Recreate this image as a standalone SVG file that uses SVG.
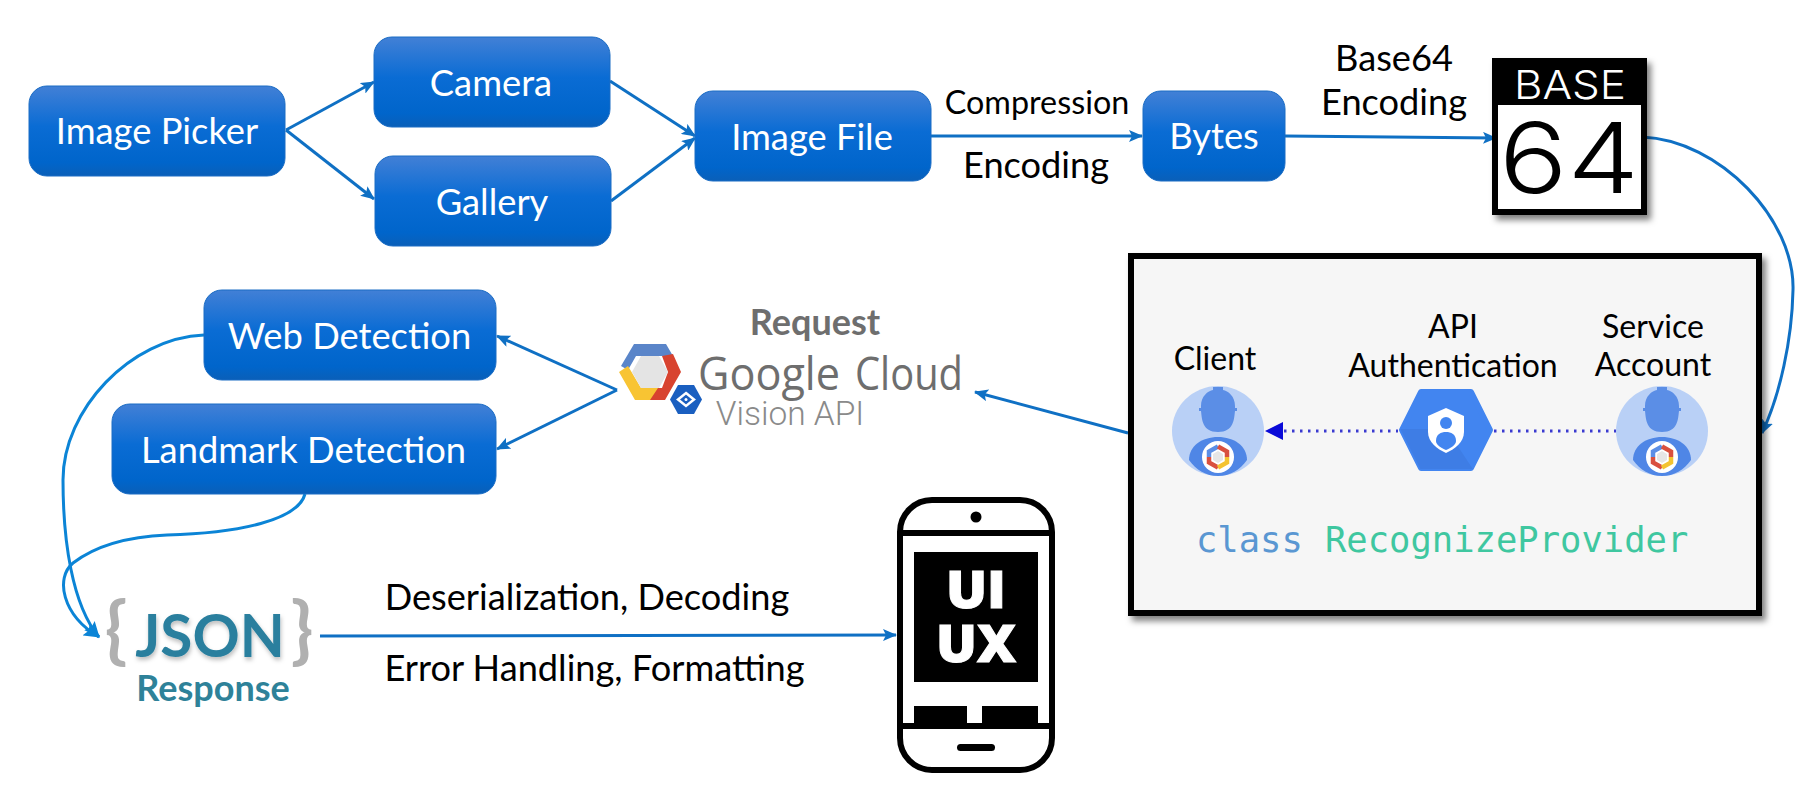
<svg xmlns="http://www.w3.org/2000/svg" xmlns:xlink="http://www.w3.org/1999/xlink" width="1809" height="788" viewBox="0 0 1809 788">
<style>
text{font-family:"Lato","Liberation Sans",sans-serif;fill:#000;text-anchor:middle}
.n{fill:url(#nodeG);stroke:#1a6cc4;stroke-width:1}
.nt{fill:#fff;font-size:36.300px}
.l{font-size:36.200px}
.c{fill:none;stroke:#0f70c4;stroke-width:3}
.cb{fill:none;stroke:#0b84d6;stroke-width:3}
.d{fill:none;stroke:#3a3ad0;stroke-width:3;stroke-dasharray:2.5 5.5}
.mono{font-family:"DejaVu Sans Mono","Liberation Mono",monospace;font-size:35.5px;text-anchor:start}
.thin{font-family:Inter,"Liberation Sans",sans-serif;font-weight:300}
.ux{font-family:"Open Sans","Liberation Sans",sans-serif;font-size:52px;font-weight:800;fill:#fff;stroke:#fff;stroke-width:1}
.gc{text-anchor:start;font-family:"Open Sans","Liberation Sans",sans-serif;font-size:46px;fill:#6e6e6e}
</style>
<defs>
<linearGradient id="nodeG" x1="0" y1="0" x2="0" y2="1">
<stop offset="0" stop-color="#4280d6"/><stop offset=".45" stop-color="#0a6cd4"/><stop offset=".85" stop-color="#0065cb"/><stop offset="1" stop-color="#0a5fb8"/>
</linearGradient>
<filter id="sh" x="-10%" y="-10%" width="125%" height="125%"><feDropShadow dx="4" dy="5" stdDeviation="3" flood-color="#000" flood-opacity=".5"/></filter>
<filter id="tsh" x="-10%" y="-10%" width="120%" height="125%"><feDropShadow dx="1" dy="3" stdDeviation="2" flood-color="#000" flood-opacity=".25"/></filter>
<marker id="a" markerUnits="userSpaceOnUse" viewBox="0 0 14 12" refX="13" refY="6" markerWidth="14" markerHeight="12" orient="auto"><path d="M0,0L14,6L0,12L3,6Z" fill="#0f70c4"/></marker>
<marker id="ab" markerUnits="userSpaceOnUse" viewBox="0 0 16 14" refX="15" refY="7" markerWidth="16" markerHeight="14" orient="auto"><path d="M0,0L16,7L0,14L3,7Z" fill="#0b84d6"/></marker>
<symbol id="person" viewBox="0 0 92 90" width="92" height="90" overflow="visible">
<ellipse cx="46" cy="45" rx="46" ry="45" fill="#b9d0f6"/>
<path d="M29,20C29,10 36,5 41,4L41,1H51L51,4C56,5 63,10 63,20V22H65V25H63C62,33 62,46 46,46C30,46 30,33 29,25H27V22H29Z" fill="#5b8ee6"/>
<path d="M17,74C17,60 30,51 46,51C62,51 75,60 75,74C68,84 58,90 46,90C34,90 24,84 17,74Z" fill="#4f86e6"/>
<circle cx="46" cy="71" r="16" fill="#fff"/>
<path d="M46,60.500L37,65.500V71" fill="none" stroke="#5b8ee6" stroke-width="4.500"/>
<path d="M46,60.500L55,65.500V71" fill="none" stroke="#d9503f" stroke-width="4.500"/>
<path d="M37,71V76.500L46,81.500" fill="none" stroke="#d9503f" stroke-width="4.500"/>
<path d="M46,81.500L55,76.500V71" fill="none" stroke="#f4c331" stroke-width="4.500"/>
<path d="M46,65L51,68V74L46,77L41,74V68Z" fill="#e6e6e6"/>
</symbol>
</defs>

<g id="connectors">
<path class="c" marker-end="url(#a)" d="M286,130L374,82"/>
<path class="c" marker-end="url(#a)" d="M286,130L374,199"/>
<path class="c" marker-end="url(#a)" d="M610,81L695,136"/>
<path class="c" marker-end="url(#a)" d="M611,201L695,138"/>
<path class="c" marker-end="url(#a)" d="M931,136H1142"/>
<path class="c" marker-end="url(#a)" d="M1285,136L1496,138"/>
<path class="c" marker-end="url(#a)" d="M1642,137C1720,140 1795,220 1793,290C1792,340 1780,395 1762,433"/>
<path class="c" marker-end="url(#a)" d="M1128,433L975,392"/>
<path class="c" marker-end="url(#a)" d="M617,390L497,336"/>
<path class="c" marker-end="url(#a)" d="M617,390L497,449"/>
<path class="cb" marker-end="url(#ab)" d="M204,335C130,338 63,410 63,480C63,540 72,605 99,637"/>
<path class="cb" marker-end="url(#ab)" d="M305,494C298,520 240,533 167,535C120,537 90,550 73,563C55,578 62,615 99,637"/>
<path class="c" marker-end="url(#a)" d="M320,636L896,635"/>
</g>

<g id="image-picker"><rect class="n" x="29" y="86" width="256" height="90" rx="18"/><text class="nt" x="157" y="144">Image Picker</text></g>
<g id="camera"><rect class="n" x="374" y="37" width="236" height="90" rx="18"/><text class="nt" x="491" y="96">Camera</text></g>
<g id="gallery"><rect class="n" x="375" y="156" width="236" height="90" rx="18"/><text class="nt" x="492" y="215">Gallery</text></g>
<g id="image-file"><rect class="n" x="695" y="91" width="236" height="90" rx="18"/><text class="nt" x="812" y="150">Image File</text></g>
<g id="bytes"><rect class="n" x="1143" y="91" width="142" height="90" rx="18"/><text class="nt" x="1214" y="149">Bytes</text></g>
<g id="web-detection"><rect class="n" x="204" y="290" width="292" height="90" rx="18"/><text class="nt" x="349.500" y="349">Web Detection</text></g>
<g id="landmark-detection"><rect class="n" x="112" y="404" width="384" height="90" rx="18"/><text class="nt" x="303.500" y="463">Landmark Detection</text></g>

<g id="labels">
<text x="1037" y="114" style="font-size:32.300px">Compression</text>
<text class="l" x="1036" y="178">Encoding</text>
<text class="l" x="1394" y="71">Base64</text>
<text class="l" x="1394" y="115">Encoding</text>
<text class="l" x="587" y="610">Deserialization, Decoding</text>
<text class="l" x="594.500" y="681">Error Handling, Formatting</text>
</g>

<g id="base64">
<rect x="1492" y="58" width="155" height="157" fill="#000" filter="url(#sh)"/>
<rect x="1498" y="105" width="143" height="104" fill="#fff"/>
<text class="thin" x="1570" y="99" textLength="112" lengthAdjust="spacingAndGlyphs" style="font-size:39px;fill:#fff">BASE</text>
<text class="thin" x="1569" y="193" textLength="140" lengthAdjust="spacingAndGlyphs" style="font-size:98px">64</text>
</g>

<g id="recognize-provider">
<rect x="1131" y="256" width="628" height="357" fill="#f6f6f6" stroke="#000" stroke-width="6" filter="url(#sh)"/>
<text style="font-size:32px" x="1215" y="370">Client</text>
<text style="font-size:32px" x="1453" y="338">API</text>
<text style="font-size:32px" x="1453" y="377">Authentication</text>
<text style="font-size:32px" x="1653" y="338">Service</text>
<text style="font-size:32px" x="1653" y="376">Account</text>
<path class="d" d="M1284,431H1398"/>
<path d="M1265,431L1283,422V440Z" fill="#0a0ad8"/>
<path class="d" d="M1494,431H1617"/>
<use xlink:href="#person" href="#person" x="1172" y="386"/>
<use xlink:href="#person" href="#person" x="1616" y="386"/>
<path d="M1421,392H1471L1490,430L1471,468H1421L1402,430Z" fill="#4285f0" stroke="#4285f0" stroke-width="6" stroke-linejoin="round"/>
<path d="M1402,430L1446,430L1471,468H1421Z" fill="#3d79de" stroke="#3d79de" stroke-width="2" opacity=".6"/>
<path d="M1446,408L1464,416V432C1464,442 1455,449 1446,453C1437,449 1428,442 1428,432V416Z" fill="#fff"/>
<circle cx="1446" cy="423" r="6" fill="#4285f0"/>
<path d="M1436,441C1436,434 1441,432 1446,432C1451,432 1456,434 1456,441C1456,445 1451,448 1446,450C1441,448 1436,445 1436,441Z" fill="#4285f0"/>
<text class="mono" x="1196" y="552" style="fill:#5a97d2">class</text>
<text class="mono" x="1325" y="552" style="fill:#3fc7a0">RecognizeProvider</text>
</g>

<g id="google-cloud-vision">
<text x="815" y="335" style="font-size:36px;font-weight:700;fill:#6e6e6e">Request</text>
<path d="M634,344H666L673,356H636L628,370L621,366Z" fill="#5a85c9"/>
<path d="M673,354L681,372L665,400H648L656,388H662L668,372L662,356Z" fill="#d8432f"/>
<path d="M619,372L628,366L641,388H658L650,400H635Z" fill="#f8c433"/>
<path d="M641,356H659L668,372L659,388H641L632,372Z" fill="#e4e4e4"/>
<path d="M678,385H694L702,399.500L694,414H678L670,399.500Z" fill="#1a5fc0"/>
<path d="M686,393L694,399.500L686,406L678,399.500Z" fill="none" stroke="#fff" stroke-width="2.500"/>
<circle cx="686" cy="399.500" r="1.500" fill="#fff"/>
<text class="gc" x="698" y="390" textLength="142" lengthAdjust="spacingAndGlyphs" style="font-weight:500">Google</text>
<text class="gc" x="855" y="390" textLength="108" lengthAdjust="spacingAndGlyphs">Cloud</text>
<text x="790" y="425" style="font-family:Roboto,'Liberation Sans',sans-serif;font-size:33.500px;font-weight:300;fill:#8a8a8a">Vision API</text>
</g>

<g id="json-response">
<text x="116" y="655" style="font-size:74px;fill:#b0b0b0;font-weight:700">{</text>
<text x="302" y="655" style="font-size:74px;fill:#b0b0b0;font-weight:700">}</text>
<text x="210" y="657" filter="url(#tsh)" style="font-size:58.500px;font-weight:700;fill:#2a7f9e">JSON</text>
<text x="213" y="701" style="font-size:36px;font-weight:700;fill:#2e8299">Response</text>
</g>

<g id="ui-ux-phone">
<rect x="900" y="500" width="152" height="270" rx="32" fill="#fff" stroke="#000" stroke-width="6"/>
<path d="M900,533H1052M900,726H1052" stroke="#000" stroke-width="6" fill="none"/>
<ellipse cx="976" cy="517" rx="5.500" ry="5.500" fill="#000"/>
<rect x="914" y="552" width="124" height="130" fill="#000"/>
<path d="M914,706H967V723H914ZM982,706H1038V723H982Z" fill="#000"/>
<rect x="957" y="744" width="38" height="7" rx="3.500" fill="#000"/>
<text class="ux" x="976" y="608" textLength="60" lengthAdjust="spacingAndGlyphs">UI</text>
<text class="ux" x="976" y="662" textLength="80" lengthAdjust="spacingAndGlyphs">UX</text>
</g>
</svg>
